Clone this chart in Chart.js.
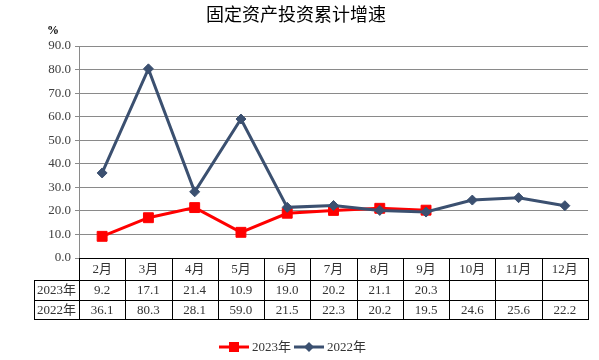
<!DOCTYPE html>
<html>
<head>
<meta charset="utf-8">
<script src="https://cdn.jsdelivr.net/npm/chart.js@4.4.0/dist/chart.umd.min.js"></script>
<style>
  html, body { margin: 0; padding: 0; background: #fff; }
  canvas { display: block; }
</style>
</head>
<body>
<canvas id="investChart" width="599" height="360"></canvas>
<script>
const chartTitle = '固定资产投资累计增速';
const months = ['2月', '3月', '4月', '5月', '6月', '7月', '8月', '9月', '10月', '11月', '12月'];
const growth2023 = [9.2, 17.1, 21.4, 10.9, 19.0, 20.2, 21.1, 20.3, null, null, null];
const growth2022 = [36.1, 80.3, 28.1, 59.0, 21.5, 22.3, 20.2, 19.5, 24.6, 25.6, 22.2];
const seriesNames = ['2023年', '2022年'];
const yMin = 0, yMax = 90, yStep = 10;

const red = '#FF0000';
const navy = '#3B5070';
const fontFamily = "'Liberation Serif', 'Noto Sans CJK SC', serif";

// title, unit, data table and legend drawn under the plot
const tablePlugin = {
    id: 'dataTable',
    afterDraw(chart) {
        const ctx = chart.ctx;
        const area = chart.chartArea;
        const x = chart.scales.x;
        const colW = (area.right - area.left) / months.length;
        const labelLeft = 34;
        const rows = [area.bottom, area.bottom + 22, area.bottom + 42, area.bottom + 61];

        ctx.save();
        // title
        ctx.fillStyle = '#000';
        ctx.font = '18px ' + fontFamily;
        ctx.textAlign = 'center';
        ctx.textBaseline = 'middle';
        ctx.fillText(chartTitle, 296, 16);
        // unit
        ctx.font = 'bold 12px ' + fontFamily;
        ctx.fillText('%', 53, 31);

        // table grid
        ctx.strokeStyle = '#000';
        ctx.lineWidth = 1;
        ctx.beginPath();
        ctx.moveTo(area.left, rows[0] + 0.5);
        ctx.lineTo(area.right, rows[0] + 0.5);
        for (let r = 1; r < rows.length; r++) {
            ctx.moveTo(labelLeft, rows[r] + 0.5);
            ctx.lineTo(area.right, rows[r] + 0.5);
        }
        for (let i = 0; i <= months.length; i++) {
            const px = Math.round(area.left + i * colW) + 0.5;
            ctx.moveTo(px, rows[0]);
            ctx.lineTo(px, rows[3] + 1);
        }
        ctx.moveTo(labelLeft + 0.5, rows[1]);
        ctx.lineTo(labelLeft + 0.5, rows[3] + 1);
        ctx.stroke();

        // table text
        ctx.font = '13px ' + fontFamily;
        ctx.fillStyle = '#333';
        const mid = (r) => (rows[r] + rows[r + 1]) / 2 + 1;
        months.forEach((m, i) => {
            const cx = x.getPixelForValue(i);
            ctx.fillText(m, cx, mid(0));
            if (growth2023[i] !== null) ctx.fillText(growth2023[i].toFixed(1), cx, mid(1));
            ctx.fillText(growth2022[i].toFixed(1), cx, mid(2));
        });
        ctx.fillText(seriesNames[0], (labelLeft + area.left) / 2, mid(1));
        ctx.fillText(seriesNames[1], (labelLeft + area.left) / 2, mid(2));

        // legend
        const ly = 347;
        const drawKey = (x0, color, style, name) => {
            ctx.strokeStyle = color;
            ctx.lineWidth = 3;
            ctx.beginPath();
            ctx.moveTo(x0, ly);
            ctx.lineTo(x0 + 30, ly);
            ctx.stroke();
            ctx.fillStyle = color;
            if (style === 'rect') {
                ctx.fillRect(x0 + 10, ly - 5, 10, 10);
            } else {
                ctx.beginPath();
                ctx.moveTo(x0 + 15, ly - 5);
                ctx.lineTo(x0 + 20, ly);
                ctx.lineTo(x0 + 15, ly + 5);
                ctx.lineTo(x0 + 10, ly);
                ctx.closePath();
                ctx.fill();
            }
            ctx.fillStyle = '#333';
            ctx.textAlign = 'left';
            ctx.fillText(name, x0 + 33, ly + 1);
        };
        drawKey(219, red, 'rect', seriesNames[0]);
        drawKey(294, navy, 'rectRot', seriesNames[1]);
        ctx.restore();
    }
};

new Chart(document.getElementById('investChart'), {
    type: 'line',
    data: {
        labels: months,
        datasets: [
            {
                label: seriesNames[0],
                data: growth2023,
                borderColor: red,
                backgroundColor: red,
                borderWidth: 3,
                pointStyle: 'rect',
                pointRadius: 7,
                pointBorderWidth: 1,
                order: 1,
                spanGaps: false
            },
            {
                label: seriesNames[1],
                data: growth2022,
                borderColor: navy,
                backgroundColor: navy,
                borderWidth: 3,
                pointStyle: 'rectRot',
                pointRadius: 5,
                pointBorderWidth: 1,
                order: 0
            }
        ]
    },
    options: {
        responsive: false,
        animation: false,
        devicePixelRatio: 1,
        layout: { padding: { left: 34, right: 11, top: 46, bottom: 102 } },
        plugins: {
            legend: { display: false },
            title: { display: false },
            tooltip: { enabled: false }
        },
        scales: {
            x: {
                display: false,
                offset: true
            },
            y: {
                min: yMin,
                max: yMax,
                afterFit(scale) { scale.width = 45; },
                ticks: {
                    stepSize: yStep,
                    color: '#404040',
                    padding: 4,
                    font: { family: fontFamily, size: 13 },
                    callback: (v) => Number(v).toFixed(1)
                },
                grid: {
                    color: '#8A8A8A',
                    lineWidth: 1,
                    tickLength: 4
                },
                border: { color: '#8A8A8A' }
            }
        }
    },
    plugins: [tablePlugin]
});
</script>
</body>
</html>
